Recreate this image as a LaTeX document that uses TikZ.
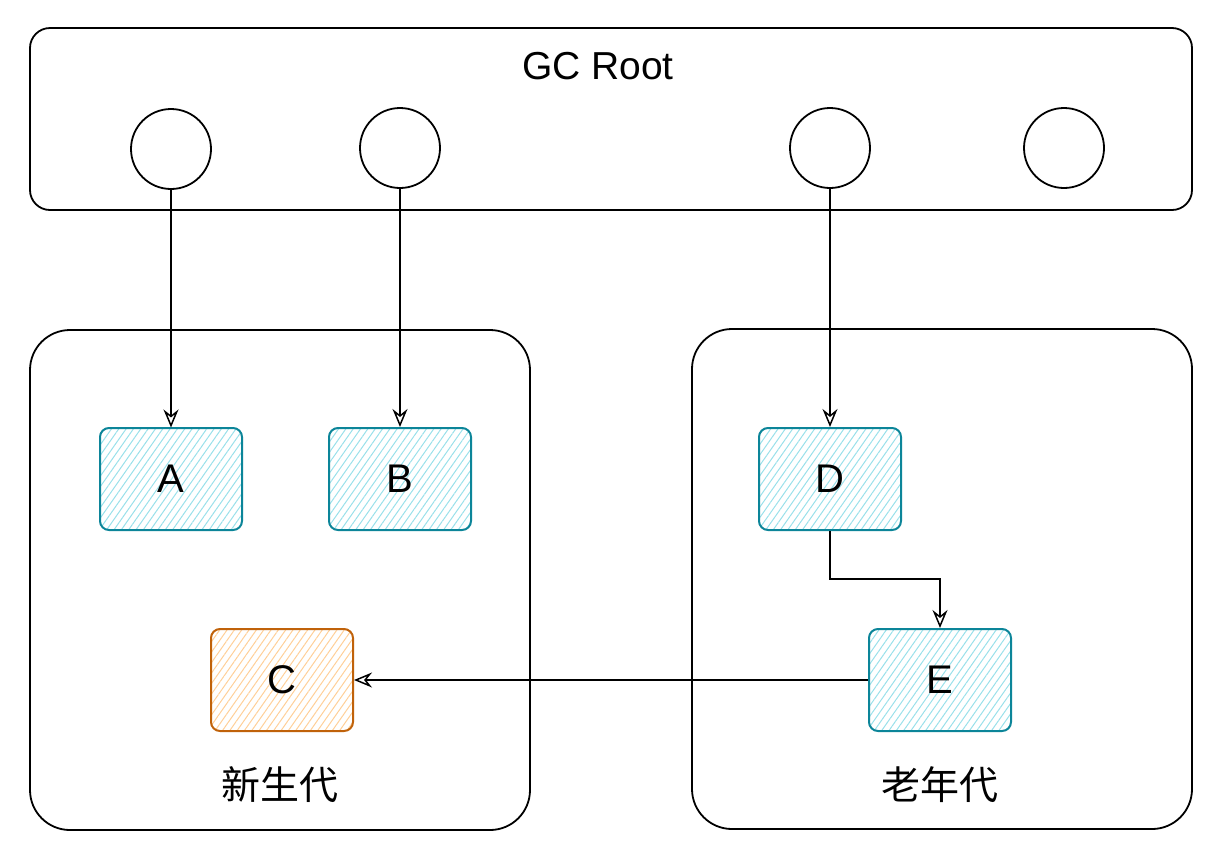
\documentclass[tikz,border=0pt]{standalone}
\usepackage{fontspec}
\setmainfont{Liberation Sans}
\newfontfamily\cjk{Noto Sans CJK SC}
\usetikzlibrary{positioning,arrows.meta,patterns.meta}
\definecolor{tealline}{HTML}{0C8599}
\definecolor{tealfill}{HTML}{99E0EA}
\definecolor{orangeline}{HTML}{C0620A}
\definecolor{orangefill}{HTML}{FFCF98}

\begin{document}
\begin{tikzpicture}[x=1pt, y=-1pt, line width=1.5pt,
	link/.style={-{Stealth[open, length=18pt, width=15pt, inset=6pt]}},
	region/.style={draw, black, line width=1.8pt, rounded corners=40pt, minimum width=500pt, minimum height=500pt},
	rootdot/.style={draw, black, line width=1.8pt, circle, minimum size=80pt},
	obj/.style={draw=tealline, line width=2pt, rounded corners=9pt, minimum width=142pt, minimum height=102pt, font=\fontsize{40}{48}\selectfont, pattern={Lines[angle=55, distance=6pt, line width=1pt]}, pattern color=tealfill},
	young/.style={obj, draw=orangeline, pattern color=orangefill},
	title/.style={font=\fontsize{39}{47}\selectfont}]
	\useasboundingbox (0,0) rectangle (1228,860);
	
	\node[draw, line width=1.8pt, rounded corners=20pt, minimum width=1162pt, minimum height=182pt] (gc) at (611,119) {};
	\node[title] (gclabel) at (598,66) {GC Root};
	\node[rootdot] (r1) at (171,149) {};
	\node[rootdot] (r2) at (400,148) {};
	\node[rootdot] (r3) at (830,148) {};
	\node[rootdot] (r4) at (1064,148) {};
	
	\node[region] (new) at (280,580) {};
	\node[region] (old) at (942,579) {};
	\node[title] (newlabel) at (280,785) {\cjk 新生代};
	\node[title] (oldlabel) at (940,785) {\cjk 老年代};
	
	\node[obj] (A) at (171,479) {A};
	\node[obj] (B) at (400,479) {B};
	\node[obj] (D) at (830,479) {D};
	\node[young] (C) at (282,680) {C};
	\node[obj] (E) at (940,680) {E};
	
	\draw[link] (r1) -- (A);
	\draw[link] (r2) -- (B);
	\draw[link] (r3) -- (D);
	\draw[link] (D.south) -- ++(0,48) -| (E.north);
	\draw[link] (E) -- (C);
	
\end{tikzpicture}
\end{document}
